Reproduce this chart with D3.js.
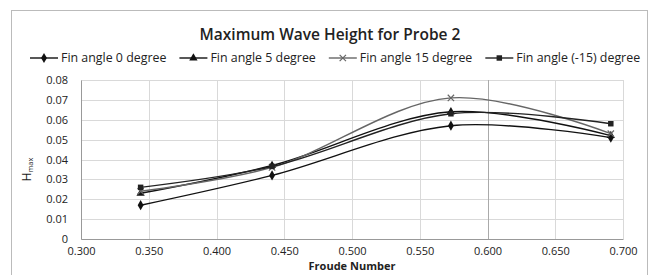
<!DOCTYPE html>
<html>
<head>
<meta charset="utf-8">
<script src="https://cdn.jsdelivr.net/npm/d3@7"></script>
<style>
  body { margin: 0; background: #fff; }
  text { font-family: "Open Sans", "Liberation Sans", sans-serif; fill: #222; }
</style>
</head>
<body>
<script>
// data
var froude = [0.344, 0.441, 0.573, 0.691];
var fin0 = [0.017, 0.032, 0.057, 0.051];
var fin5 = [0.023, 0.037, 0.064, 0.052];
var fin15 = [0.024, 0.036, 0.071, 0.053];
var finM15 = [0.026, 0.0365, 0.063, 0.058];
var seriesNames = ["Fin angle 0 degree", "Fin angle 5 degree", "Fin angle 15 degree", "Fin angle (-15) degree"];
var xTicks = [0.300, 0.350, 0.400, 0.450, 0.500, 0.550, 0.600, 0.650, 0.700];
var yTicks = [0, 0.01, 0.02, 0.03, 0.04, 0.05, 0.06, 0.07, 0.08];

var series = [
  {name: seriesNames[0], values: fin0, symbol: d3.symbolDiamond, color: "#111", size: 30},
  {name: seriesNames[1], values: fin5, symbol: d3.symbolTriangle, color: "#111", size: 30},
  {name: seriesNames[2], values: fin15, symbol: d3.symbolX, color: "#666", size: 28},
  {name: seriesNames[3], values: finM15, symbol: d3.symbolSquare, color: "#222", size: 30}
];

var W = 654, H = 275;
var margin = {top: 80, right: 31, bottom: 36, left: 81};
var width = W - margin.left - margin.right;
var height = H - margin.top - margin.bottom;

var svg = d3.select("body").append("svg")
  .attr("width", W)
  .attr("height", H);

// chart frame
svg.append("rect")
  .attr("x", 11.5).attr("y", 10.5)
  .attr("width", 636).attr("height", 280)
  .attr("fill", "none")
  .attr("stroke", "#bbb");

svg.append("text")
  .attr("x", 330).attr("y", 40)
  .attr("text-anchor", "middle")
  .attr("font-size", "15.5px")
  .attr("font-weight", 600)
  .text("Maximum Wave Height for Probe 2");

var g = svg.append("g")
  .attr("transform", "translate(" + margin.left + "," + margin.top + ")");

var x = d3.scaleLinear().domain([0.3, 0.7]).range([0, width]);
var y = d3.scaleLinear().domain([0, 0.08]).range([height, 0]);

// grid
g.selectAll(".hgrid").data(yTicks).enter().append("line")
  .attr("x1", 0).attr("x2", width)
  .attr("y1", d => Math.round(y(d)) + 0.5).attr("y2", d => Math.round(y(d)) + 0.5)
  .attr("stroke", "#d9d9d9");
g.selectAll(".vgrid").data(xTicks).enter().append("line")
  .attr("y1", 0).attr("y2", height)
  .attr("x1", d => Math.round(x(d)) + 0.5).attr("x2", d => Math.round(x(d)) + 0.5)
  .attr("stroke", d => d === 0.6 ? "#aaa" : "#d9d9d9");

// axes
var leftAxis = d3.axisLeft(y).tickValues(yTicks).tickSize(0).tickPadding(13)
  .tickFormat(d => d === 0 ? "0" : d3.format(".2f")(d));
var gy = g.append("g").call(leftAxis);
gy.select(".domain").attr("stroke", "#999");
gy.selectAll("text").attr("font-size", "11px").attr("font-family", "Open Sans, sans-serif").attr("fill", "#222");

var bottomAxis = d3.axisBottom(x).tickValues(xTicks).tickSize(0).tickPadding(8)
  .tickFormat(d3.format(".3f"));
var gx = g.append("g").attr("transform", "translate(0," + height + ")").call(bottomAxis);
gx.select(".domain").attr("stroke", "#999");
gx.selectAll("text").attr("font-size", "11px").attr("font-family", "Open Sans, sans-serif").attr("fill", "#222");

// axis titles
g.append("text")
  .attr("x", width / 2).attr("y", height + 31)
  .attr("text-anchor", "middle")
  .attr("font-size", "11px").attr("font-weight", "bold")
  .text("Froude Number");

var yl = g.append("text")
  .attr("transform", "translate(-50," + (height / 2 + 10) + ") rotate(-90)")
  .attr("text-anchor", "middle")
  .attr("font-size", "12px");
yl.append("tspan").text("H");
yl.append("tspan").attr("font-size", "7.5px").attr("dy", 2).text("max");

// lines
var line = d3.line()
  .x((d, i) => x(froude[i]))
  .y(d => y(d))
  .curve(d3.curveCatmullRom.alpha(0.5));

series.forEach(function(s) {
  g.append("path")
    .datum(s.values)
    .attr("d", line)
    .attr("fill", "none")
    .attr("stroke", s.color)
    .attr("stroke-width", 1.4);
  g.selectAll(null).data(s.values).enter().append("path")
    .attr("d", d3.symbol().type(s.symbol).size(s.size))
    .attr("transform", (d, i) => "translate(" + x(froude[i]) + "," + y(d) + ")")
    .attr("fill", s.color)
    .attr("stroke", s.color)
    .attr("stroke-width", s.symbol === d3.symbolX ? 1.2 : 0);
});

// legend, laid out one after another
var lx = 30;
series.forEach(function(s) {
  var lg = svg.append("g").attr("transform", "translate(" + lx + ",58)");
  lg.append("line")
    .attr("x1", 0).attr("x2", 28)
    .attr("stroke", s.color).attr("stroke-width", 1.4);
  lg.append("path")
    .attr("d", d3.symbol().type(s.symbol).size(s.size)())
    .attr("transform", "translate(14,0)")
    .attr("fill", s.color)
    .attr("stroke", s.color)
    .attr("stroke-width", s.symbol === d3.symbolX ? 1.2 : 0);
  var t = lg.append("text")
    .attr("x", 31).attr("y", 4)
    .attr("font-size", "12.4px")
    .text(s.name);
  lx += 31 + t.node().getComputedTextLength() + 13;
});
</script>
</body>
</html>
